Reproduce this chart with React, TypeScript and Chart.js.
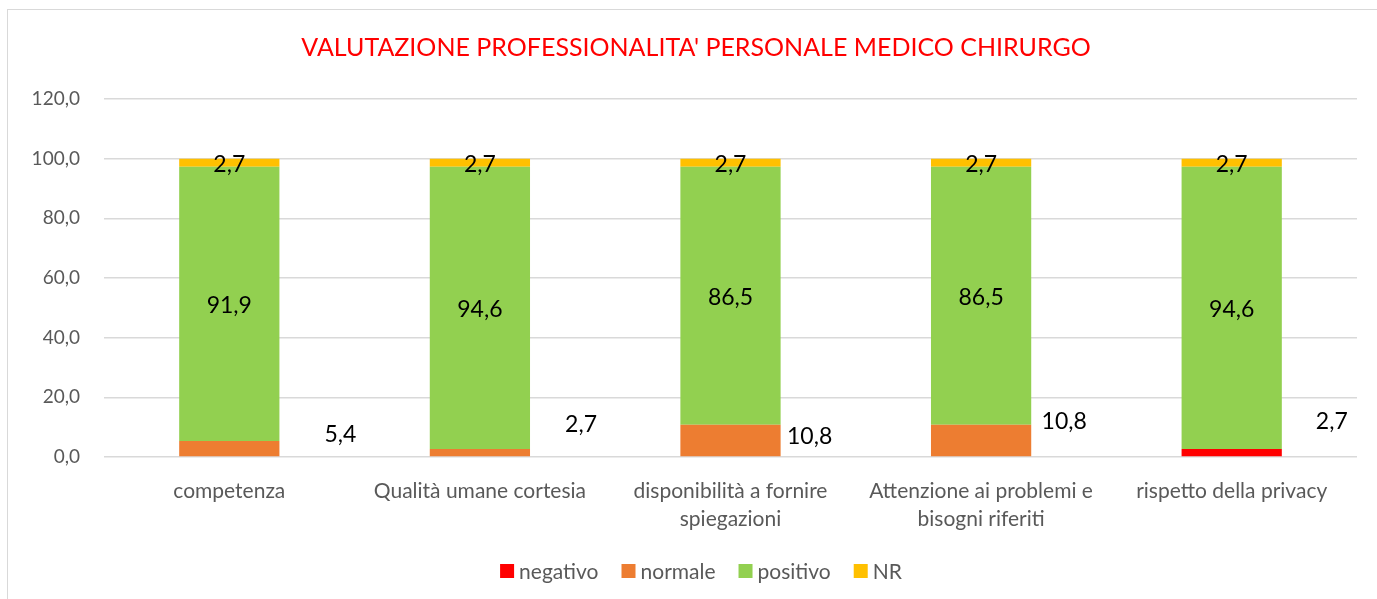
import React, { useEffect, useRef } from "react";
import { Chart, registerables } from "chart.js";

Chart.register(...registerables);

const categories: (string | string[])[] = [
  "competenza",
  "Qualità umane cortesia",
  ["disponibilità a fornire", "spiegazioni"],
  ["Attenzione ai problemi e", "bisogni riferiti"],
  "rispetto della privacy",
];
const negativo = [0, 0, 0, 0, 2.7];
const normale = [5.4, 2.7, 10.8, 10.8, 0];
const positivo = [91.9, 94.6, 86.5, 86.5, 94.6];
const nr = [2.7, 2.7, 2.7, 2.7, 2.7];
const seriesNames = ["negativo", "normale", "positivo", "NR"];
const seriesColors = ["#FF0000", "#ED7D31", "#92D050", "#FFC000"];
const titleText = "VALUTAZIONE PROFESSIONALITA' PERSONALE MEDICO CHIRURGO";
// pixel offsets of the manually-placed side labels (normale / negativo)
const sideLabelDx = [61, 51, 29, 33, 50];
const sideLabelDy = [-14, -28, -4, -19, -31];

const FONT = "Lato, 'Open Sans', sans-serif";
const fmt = (v: number) => v.toFixed(1).replace(".", ",");

export default function App() {
  const ref = useRef<HTMLCanvasElement>(null);
  useEffect(() => {
    document.body.style.margin = "0";
    const ctx = ref.current!.getContext("2d")!;
    const overlay = {
      id: "overlay",
      afterDatasetsDraw(chart: any) {
        const c = chart.ctx;
        c.save();
        c.fillStyle = "#000";
        c.font = `23px ${FONT}`;
        c.textAlign = "center";
        c.textBaseline = "middle";
        const sets = chart.data.datasets;
        for (let i = 0; i < categories.length; i++) {
          for (const di of [2, 3]) {
            const el = chart.getDatasetMeta(di).data[i] as any;
            const v = sets[di].data[i];
            if (!v) continue;
            c.fillText(fmt(v), el.x, (el.y + el.base) / 2 + 2);
          }
          for (const di of [0, 1]) {
            const el = chart.getDatasetMeta(di).data[i] as any;
            const v = sets[di].data[i];
            if (!v) continue;
            const x = el.x + el.width / 2 + sideLabelDx[i];
            const y = (el.y + el.base) / 2 + sideLabelDy[i];
            c.fillText(fmt(v), x, y);
          }
        }
        // title
        c.fillStyle = "#FF0000";
        c.font = `25px ${FONT}`;
        c.fillText(titleText, 696, 48);
        // legend
        c.font = `21px ${FONT}`;
        c.textAlign = "left";
        const box = 14, gapBox = 5, gapItem = 23;
        const widths = seriesNames.map((n) => box + gapBox + c.measureText(n).width);
        const total = widths.reduce((a, b) => a + b, 0) + gapItem * (seriesNames.length - 1);
        let x = 701 - total / 2;
        const ly = 571;
        seriesNames.forEach((n, k) => {
          c.fillStyle = seriesColors[k];
          c.fillRect(x, ly - box / 2, box, box);
          c.fillStyle = "#595959";
          c.fillText(n, x + box + gapBox, ly + 1);
          x += widths[k] + gapItem;
        });
        c.restore();
      },
    };
    const chart = new Chart(ctx, {
      type: "bar",
      data: {
        labels: categories,
        datasets: [negativo, normale, positivo, nr].map((d, k) => ({
          label: seriesNames[k],
          data: d,
          backgroundColor: seriesColors[k],
          borderWidth: 0,
          categoryPercentage: 1,
          barPercentage: 0.4,
        })),
      },
      options: {
        responsive: false,
        animation: false,
        layout: { padding: { top: 99, right: 20, left: 0, bottom: 0 } },
        plugins: {
          legend: { display: false },
          title: { display: false },
          tooltip: { enabled: false },
        },
        scales: {
          x: {
            stacked: true,
            grid: { display: false },
            border: { display: false },
            ticks: {
              color: "#595959",
              font: { family: FONT, size: 21, lineHeight: 1.33 },
              padding: 12,
              maxRotation: 0,
              autoSkip: false,
            },
            afterFit: (s: any) => {
              s.height = 599 - 457;
            },
          },
          y: {
            stacked: true,
            min: 0,
            max: 120,
            ticks: {
              stepSize: 20,
              color: "#595959",
              font: { family: FONT, size: 19 },
              padding: 24,
              callback: (v: any) => fmt(Number(v)),
            },
            grid: { color: "#D9D9D9", lineWidth: 1.5, drawTicks: false },
            border: { display: false },
            afterFit: (s: any) => {
              s.width = 104;
            },
          },
        },
      },
      plugins: [overlay],
    });
    return () => chart.destroy();
  }, []);
  return (
    <div style={{ position: "relative", width: 1377, height: 599, background: "#fff" }}>
      <div
        style={{
          position: "absolute",
          left: 7,
          top: 9,
          width: 1377,
          height: 599,
          border: "1.5px solid #D9D9D9",
          boxSizing: "border-box",
        }}
      />
      <canvas ref={ref} width={1377} height={599} style={{ position: "absolute", left: 0, top: 0 }} />
    </div>
  );
}
